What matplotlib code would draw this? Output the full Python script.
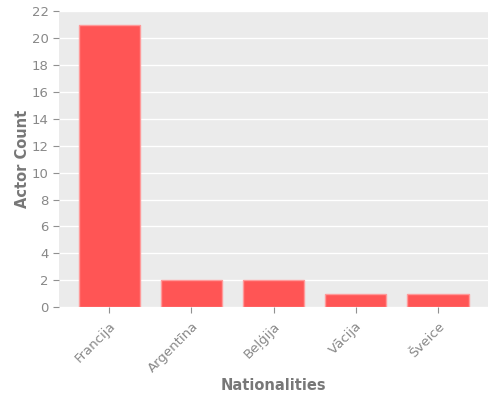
import matplotlib
matplotlib.use("Agg")
import matplotlib.pyplot as plt

categories = ["Francija", "Argentīna", "Beļģija", "Vācija", "Šveice"]
counts = [21, 2, 2, 1, 1]
yticks = list(range(0, 23, 2))

plt.style.use("ggplot")
plt.rcParams["font.family"] = ["DejaVu Sans"]

fig, ax = plt.subplots(figsize=(5, 4), dpi=100)
fig.subplots_adjust(left=0.118, right=0.976, top=0.972, bottom=0.232)
ax.set_facecolor("#EBEBEB")
ax.bar(categories, counts, width=0.75, color="#FF5555", edgecolor="#FF9A9A", linewidth=1)
ax.set_ylim(0, 22)
ax.set_yticks(yticks)
ax.grid(axis="x", visible=False)
ax.grid(axis="y", color="white", linewidth=1)
ax.set_axisbelow(True)
ax.tick_params(colors="#909090", labelsize=9.5, labelcolor="#888888", length=4)
ax.tick_params(axis="x", pad=5)
plt.setp(ax.get_xticklabels(), rotation=45, ha="right", rotation_mode="anchor")
ax.set_xlabel("Nationalities", color="#777777", fontsize=10.5, fontweight="semibold", labelpad=2)
ax.set_ylabel("Actor Count", color="#777777", fontsize=10.5, fontweight="semibold", labelpad=1)
for s in ax.spines.values():
    s.set_visible(False)

fig.savefig("out.png", dpi=100)
